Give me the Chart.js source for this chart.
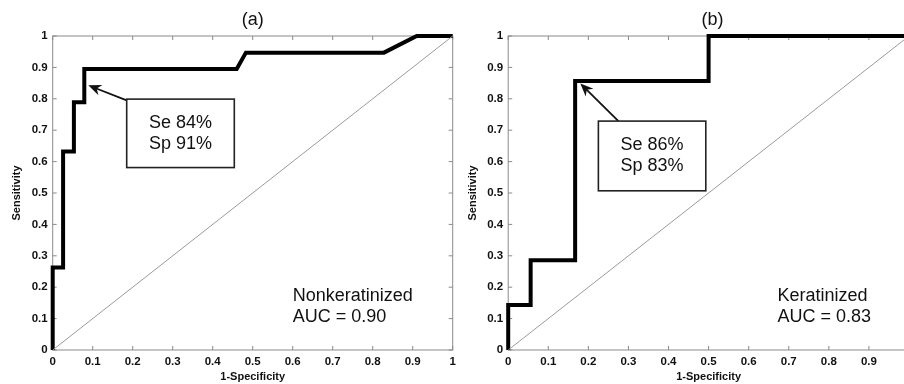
<!DOCTYPE html>
<html>
<head>
<meta charset="utf-8">
<script src="https://cdn.jsdelivr.net/npm/chart.js@4.4.1/dist/chart.umd.min.js"></script>
<style>
html, body { margin: 0; padding: 0; background: #fff; overflow: hidden; }
#wrap { position: relative; width: 904px; height: 384px; overflow: hidden; }
#rocA { position: absolute; left: 0; top: 0; }
#rocB { position: absolute; left: 450px; top: 0; }
</style>
</head>
<body>
<div id="wrap">
    <canvas id="rocA" width="470" height="384"></canvas>
    <canvas id="rocB" width="480" height="384"></canvas>
</div>
<script>
// tick labels shared by both axes
const tickLabels = ['0', '0.1', '0.2', '0.3', '0.4', '0.5', '0.6', '0.7', '0.8', '0.9', '1'];

// (a) nonkeratinized ROC vertices (1-specificity, sensitivity)
const rocAX = [0, 0, 0.026, 0.026, 0.053, 0.053, 0.079, 0.079, 0.46, 0.483, 0.828, 0.91, 1];
const rocAY = [0, 0.263, 0.263, 0.632, 0.632, 0.789, 0.789, 0.895, 0.895, 0.947, 0.947, 1, 1];

// (b) keratinized ROC vertices
const rocBX = [0, 0, 0.056, 0.056, 0.167, 0.167, 0.5, 0.5, 1];
const rocBY = [0, 0.143, 0.143, 0.286, 0.286, 0.857, 0.857, 1, 1];

// chance line
const chanceX = [0, 1];
const chanceY = [0, 1];

// annotation texts
const noteA = ['Se 84%', 'Sp 91%'];
const noteB = ['Se 86%', 'Sp 83%'];
const labelA = ['Nonkeratinized', 'AUC = 0.90'];
const labelB = ['Keratinized', 'AUC = 0.83'];

const FONT = "'Liberation Sans', Arial, sans-serif";

function toPoints(xs, ys) {
    return xs.map((x, i) => ({x: x, y: ys[i]}));
}

const matlabFrame = {
    id: 'matlabFrame',
    beforeDatasetsDraw(chart) {
        const {ctx, chartArea: a, scales: {x, y}} = chart;
        ctx.save();
        ctx.strokeStyle = '#8a8a8a';
        ctx.lineWidth = 1;
        ctx.strokeRect(a.left, a.top, a.right - a.left, a.bottom - a.top);
        ctx.beginPath();
        x.ticks.forEach(t => {
            const px = x.getPixelForValue(t.value);
            ctx.moveTo(px, a.bottom); ctx.lineTo(px, a.bottom - 4);
            ctx.moveTo(px, a.top); ctx.lineTo(px, a.top + 4);
        });
        y.ticks.forEach(t => {
            const py = y.getPixelForValue(t.value);
            ctx.moveTo(a.left, py); ctx.lineTo(a.left + 4, py);
            ctx.moveTo(a.right, py); ctx.lineTo(a.right - 4, py);
        });
        ctx.stroke();
        ctx.restore();
    },
    afterDatasetsDraw(chart, args, opts) {
        const {ctx, chartArea: a, scales: {x, y}} = chart;
        ctx.save();
        ctx.fillStyle = '#111';
        ctx.strokeStyle = '#111';

        // panel title
        ctx.font = `18px ${FONT}`;
        ctx.textAlign = 'center';
        ctx.textBaseline = 'middle';
        ctx.fillText(opts.title, (a.left + a.right) / 2 + opts.titleShift, 20);

        // arrow
        const tx = x.getPixelForValue(opts.arrow.tail[0]);
        const ty = y.getPixelForValue(opts.arrow.tail[1]);
        const hx = x.getPixelForValue(opts.arrow.tip[0]);
        const hy = y.getPixelForValue(opts.arrow.tip[1]);
        const c = Math.cos(Math.atan2(hy - ty, hx - tx));
        const s = Math.sin(Math.atan2(hy - ty, hx - tx));
        ctx.lineWidth = 1.8;
        ctx.beginPath();
        ctx.moveTo(tx, ty);
        ctx.lineTo(hx - 8 * c, hy - 8 * s);
        ctx.stroke();
        ctx.beginPath();
        ctx.moveTo(hx, hy);
        ctx.lineTo(hx - 13 * c + 5.5 * s, hy - 13 * s - 5.5 * c);
        ctx.lineTo(hx - 9 * c, hy - 9 * s);
        ctx.lineTo(hx - 13 * c - 5.5 * s, hy - 13 * s + 5.5 * c);
        ctx.closePath();
        ctx.fill();

        // note box
        const bx0 = x.getPixelForValue(opts.box.x[0]);
        const bx1 = x.getPixelForValue(opts.box.x[1]);
        const by0 = y.getPixelForValue(opts.box.y[0]);
        const by1 = y.getPixelForValue(opts.box.y[1]);
        ctx.fillStyle = '#fff';
        ctx.fillRect(bx0, by0, bx1 - bx0, by1 - by0);
        ctx.lineWidth = 1.6;
        ctx.strokeStyle = '#222';
        ctx.strokeRect(bx0, by0, bx1 - bx0, by1 - by0);
        ctx.fillStyle = '#111';
        ctx.font = `18px ${FONT}`;
        const cx = (bx0 + bx1) / 2;
        const cy = (by0 + by1) / 2;
        ctx.fillText(opts.note[0], cx, cy - 10.5);
        ctx.fillText(opts.note[1], cx, cy + 10.5);

        // corner label
        ctx.textAlign = 'left';
        const lx = x.getPixelForValue(opts.label.x);
        ctx.fillText(opts.label.text[0], lx, y.getPixelForValue(opts.label.y[0]));
        ctx.fillText(opts.label.text[1], lx, y.getPixelForValue(opts.label.y[1]));
        ctx.restore();
    }
};

function buildRoc(id, rocX, rocY, frame, axisWidth, yTitlePad) {
    const ctx = document.getElementById(id).getContext('2d');
    return new Chart(ctx, {
        type: 'scatter',
        data: {
            datasets: [
                {
                    data: toPoints(chanceX, chanceY),
                    showLine: true,
                    borderColor: '#9a9a9a',
                    borderWidth: 1,
                    pointRadius: 0,
                    clip: false
                },
                {
                    data: toPoints(rocX, rocY),
                    showLine: true,
                    borderColor: '#000',
                    borderWidth: 4,
                    borderJoinStyle: 'miter',
                    borderCapStyle: 'butt',
                    pointRadius: 0,
                    tension: 0,
                    clip: false
                }
            ]
        },
        options: {
            responsive: false,
            animation: false,
            devicePixelRatio: 1,
            layout: {padding: {top: 36, right: frame.padRight, bottom: 0, left: 0}},
            plugins: {
                legend: {display: false},
                tooltip: {enabled: false},
                matlabFrame: frame
            },
            scales: {
                x: {
                    type: 'linear',
                    min: 0,
                    max: 1,
                    grid: {display: false, drawTicks: false},
                    border: {display: false},
                    ticks: {
                        stepSize: 0.1,
                        padding: 5,
                        maxRotation: 0,
                        color: '#111',
                        font: {family: FONT, size: 11.5, weight: 'bold'},
                        callback: (v, i) => tickLabels[i]
                    },
                    title: {
                        display: true,
                        text: '1-Specificity',
                        color: '#111',
                        padding: {top: 0, bottom: 0},
                        font: {family: FONT, size: 11, weight: 'bold'}
                    },
                    afterFit: s => { s.height = 34; }
                },
                y: {
                    type: 'linear',
                    min: 0,
                    max: 1,
                    grid: {display: false, drawTicks: false},
                    border: {display: false},
                    ticks: {
                        stepSize: 0.1,
                        padding: 5,
                        color: '#111',
                        font: {family: FONT, size: 11.5, weight: 'bold'},
                        callback: (v, i) => tickLabels[i]
                    },
                    title: {
                        display: true,
                        text: 'Sensitivity',
                        color: '#111',
                        padding: {top: yTitlePad, bottom: 0},
                        font: {family: FONT, size: 11, weight: 'bold'}
                    },
                    afterFit: s => { s.width = axisWidth; }
                }
            }
        },
        plugins: [matlabFrame]
    });
}

buildRoc('rocA', rocAX, rocAY, {
    title: '(a)',
    titleShift: 0,
    padRight: 17.3,
    note: noteA,
    box: {x: [0.185, 0.454], y: [0.799, 0.581]},
    arrow: {tail: [0.185, 0.795], tip: [0.089, 0.843]},
    label: {text: labelA, x: 0.6, y: [0.172, 0.106]}
}, 52.7, 10.4);

buildRoc('rocB', rocBX, rocBY, {
    title: '(b)',
    titleShift: 4,
    padRight: 21,
    note: noteB,
    box: {x: [0.225, 0.493], y: [0.729, 0.507]},
    arrow: {tail: [0.275, 0.729], tip: [0.18, 0.849]},
    label: {text: labelB, x: 0.672, y: [0.172, 0.106]}
}, 58.2, 16.4);
</script>
</body>
</html>
